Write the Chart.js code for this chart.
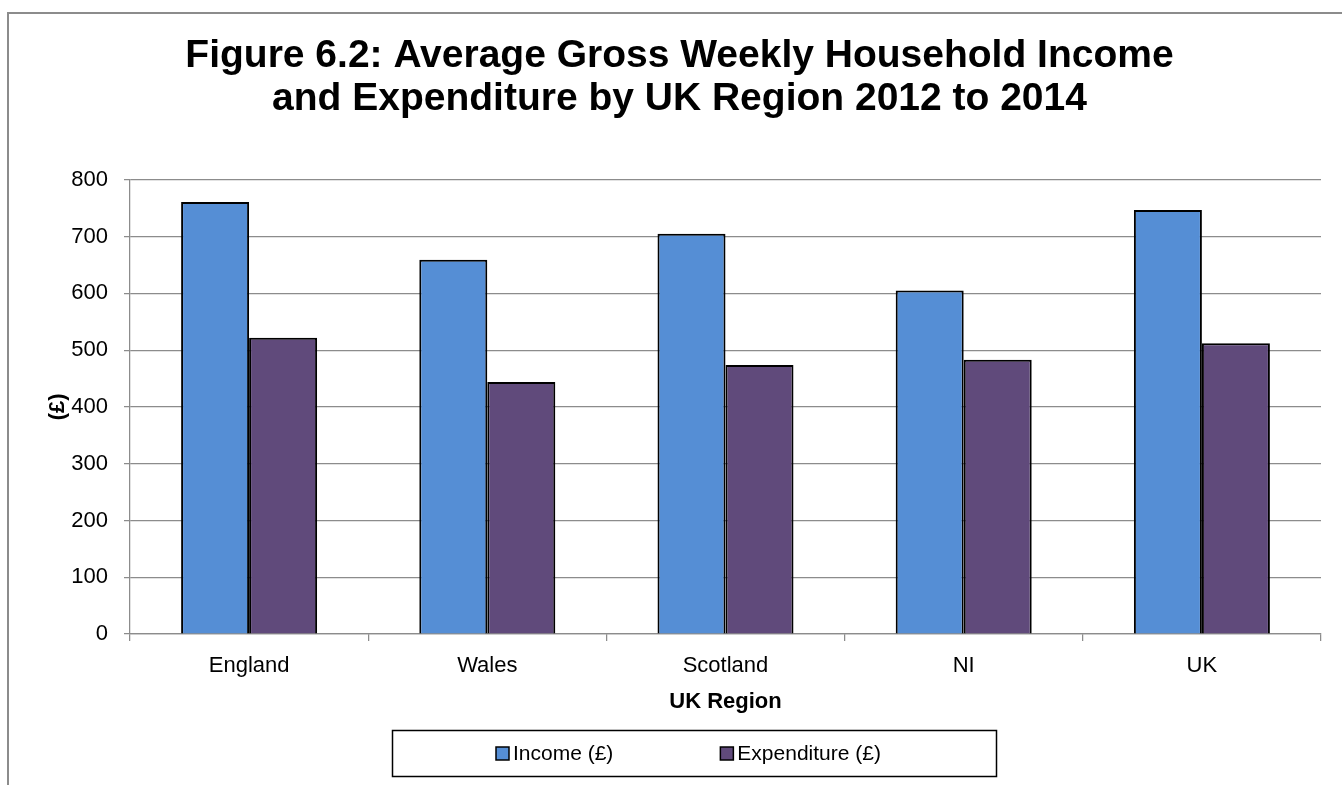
<!DOCTYPE html>
<html>
<head>
<meta charset="utf-8">
<title>Figure 6.2</title>
<script src="https://cdn.jsdelivr.net/npm/chart.js"></script>
<style>
  html, body { margin: 0; padding: 0; background: #fff; overflow: hidden; }
  #frame { position: absolute; left: 7px; top: 12px; width: 1400px; height: 900px;
           border-top: 2px solid #8c8c8c; border-left: 2px solid #8c8c8c; }
  #wrap { position: absolute; left: 0; top: 0; width: 1342px; height: 785px; }
</style>
</head>
<body>
<div id="frame"></div>
<div id="wrap"><canvas id="barChart"></canvas></div>
<script>
// data
const regions = ['England', 'Wales', 'Scotland', 'NI', 'UK'];
const income = [761, 659, 705, 605, 747];
const expenditure = [522, 444, 474, 483, 512];
const seriesNames = ['Income (£)', 'Expenditure (£)'];
const yMin = 0, yMax = 800, yStep = 100;

const fontFamily = '"Liberation Sans", Arial, sans-serif';

// legend drawn in a bordered box like the original
const boxedLegend = {
  id: 'boxedLegend',
  afterDraw(chart) {
    const ctx = chart.ctx;
    ctx.save();
    ctx.strokeStyle = '#000';
    ctx.lineWidth = 1.5;
    ctx.strokeRect(392.5, 730.5, 604, 46);
    ctx.font = '21px ' + fontFamily;
    ctx.textBaseline = 'middle';
    ctx.textAlign = 'left';
    let x = 496;
    chart.data.datasets.forEach(ds => {
      ctx.fillStyle = ds.backgroundColor;
      ctx.fillRect(x, 747, 13, 13);
      ctx.strokeStyle = '#000';
      ctx.lineWidth = 1.5;
      ctx.strokeRect(x, 747, 13, 13);
      ctx.fillStyle = '#000';
      ctx.fillText(ds.label, x + 17, 754);
      x += 17 + ctx.measureText(ds.label).width + 107;
    });
    ctx.restore();
  }
};

const ctx = document.getElementById('barChart').getContext('2d');
const chart = new Chart(ctx, {
  type: 'bar',
  data: {
    labels: regions,
    datasets: [
      {
        label: seriesNames[0],
        data: income,
        backgroundColor: '#558ed5',
        borderColor: '#000',
        borderWidth: 2
      },
      {
        label: seriesNames[1],
        data: expenditure,
        backgroundColor: '#604a7b',
        borderColor: '#000',
        borderWidth: 2
      }
    ]
  },
  options: {
    responsive: true,
    maintainAspectRatio: false,
    animation: false,
    datasets: { bar: { categoryPercentage: 0.571, barPercentage: 1 } },
    layout: { padding: { left: 38, right: 21, top: 0, bottom: 70 } },
    plugins: {
      legend: { display: false },
      tooltip: { enabled: false },
      title: {
        display: true,
        text: ['Figure 6.2: Average Gross Weekly Household Income',
               'and Expenditure by UK Region 2012 to 2014'],
        color: '#000',
        font: { family: fontFamily, size: 39, weight: 'bold', lineHeight: 1.1 },
        padding: { top: 35, bottom: 59 }
      }
    },
    scales: {
      x: {
        offset: true,
        grid: { drawOnChartArea: false, drawTicks: true, tickLength: 7, color: '#8c8c8c', lineWidth: 1.25 },
        border: { color: '#8c8c8c', width: 1.25 },
        ticks: { color: '#000', font: { family: fontFamily, size: 22 }, padding: 12, maxRotation: 0 },
        title: {
          display: true, text: 'UK Region', color: '#000',
          font: { family: fontFamily, size: 22, weight: 'bold' },
          padding: { top: 0, bottom: 0 }
        },
        afterFit(scale) { scale.height = 81; }
      },
      y: {
        min: yMin,
        max: yMax,
        ticks: { stepSize: yStep, color: '#000', font: { family: fontFamily, size: 22 }, padding: 16 },
        grid: { color: '#8c8c8c', lineWidth: 1.25, tickLength: 6 },
        border: { color: '#8c8c8c', width: 1.25 },
        title: {
          display: true, text: '(£)', color: '#000',
          font: { family: fontFamily, size: 22, weight: 'bold' },
          padding: { top: 7, bottom: 0 }
        },
        afterFit(scale) { scale.width = 92; }
      }
    }
  },
  plugins: [boxedLegend]
});
</script>
</body>
</html>
